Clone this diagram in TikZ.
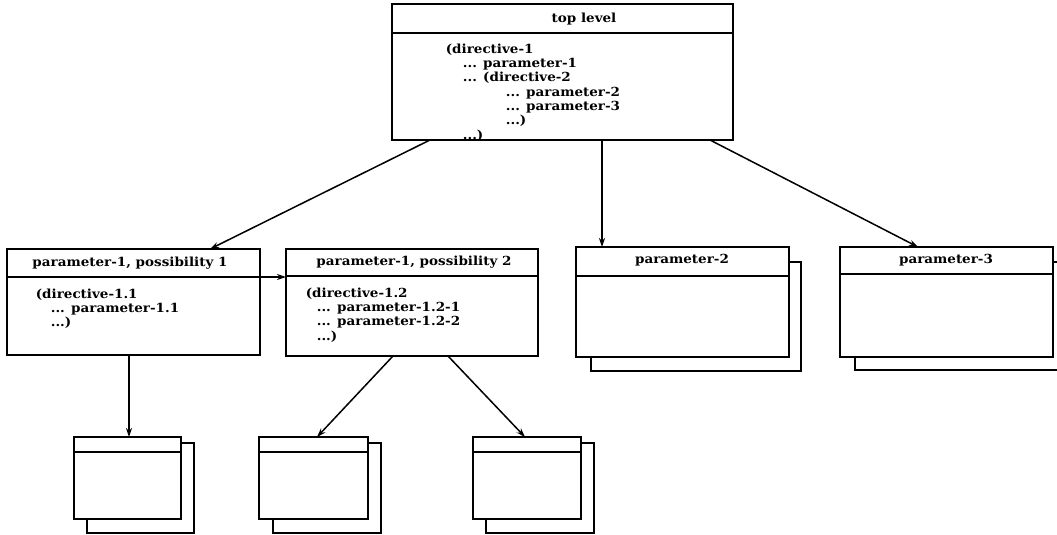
\documentclass[tikz,border=0pt]{standalone}
\usepackage{fontspec}
\newfontfamily\dsf{DejaVu Serif}[FakeStretch=1.08]
\usetikzlibrary{arrows.meta,calc}
\begin{document}
\begin{tikzpicture}[x=1pt,y=-1pt,
  line width=1.7pt,
  box/.style={draw, fill=white, rectangle, anchor=north west, inner sep=0pt, outer sep=0pt},
  back/.style={draw, line width=1.7pt},
  hdr/.style={font=\dsf\bfseries\fontsize{12.5}{14}\selectfont, inner sep=0pt, anchor=center},
  body/.style={font=\dsf\bfseries\fontsize{12.5}{14.3}\selectfont, inner sep=0pt, anchor=north west, align=left},
  conn/.style={line width=1.5pt, -{Stealth[length=9pt,width=6pt]}}]
\useasboundingbox (0,0) rectangle (1057,535);
% shadows (back sheets)
\draw[back] (591,262) rectangle (801,371);
\draw[back] (855,262) rectangle (1070,370);
\draw[back] (87,443) rectangle (194,533);
\draw[back] (273,443) rectangle (381,533);
\draw[back] (486,443) rectangle (594,533);
% boxes
\node[box, minimum width=341pt, minimum height=136pt] (top) at (392,4) {};
\node[box, minimum width=253pt, minimum height=106pt] (p1) at (7,249) {};
\node[box, minimum width=252pt, minimum height=107pt] (p2) at (286,249) {};
\node[box, minimum width=213pt, minimum height=110pt] (p3) at (576,247) {};
\node[box, minimum width=213pt, minimum height=110pt] (p4) at (840,247) {};
\node[box, minimum width=107pt, minimum height=82pt] (a) at (74,437) {};
\node[box, minimum width=109pt, minimum height=82pt] (b) at (259,437) {};
\node[box, minimum width=108pt, minimum height=82pt] (c) at (473,437) {};
% header lines
\draw ([yshift=-29pt]top.north west) -- ([yshift=-29pt]top.north east);
\draw ([yshift=-28pt]p1.north west) -- ([yshift=-28pt]p1.north east);
\draw ([yshift=-27pt]p2.north west) -- ([yshift=-27pt]p2.north east);
\draw ([yshift=-29pt]p3.north west) -- ([yshift=-29pt]p3.north east);
\draw ([yshift=-27pt]p4.north west) -- ([yshift=-27pt]p4.north east);
\draw ([yshift=-15pt]a.north west) -- ([yshift=-15pt]a.north east);
\draw ([yshift=-15pt]b.north west) -- ([yshift=-15pt]b.north east);
\draw ([yshift=-15pt]c.north west) -- ([yshift=-15pt]c.north east);
% header texts
\node[hdr] (toph) at (584,19) {top level};
\node[hdr] (p1h) at (130,263) {parameter-1, possibility 1};
\node[hdr] (p2h) at (414,262) {parameter-1, possibility 2};
\node[hdr] (p3h) at (682,260) {parameter-2};
\node[hdr] (p4h) at (946,260) {parameter-3};
% body texts
\node[body] (topb) at (445,43) {(directive-1\\
\hspace*{17pt}... parameter-1\\
\hspace*{17pt}... (directive-2\\
\hspace*{60pt}... parameter-2\\
\hspace*{60pt}... parameter-3\\
\hspace*{60pt}...)\\
\hspace*{17pt}...)};
\node[body] (p1b) at (35,288) {(directive-1.1\\
\hspace*{15pt}... parameter-1.1\\
\hspace*{15pt}...)};
\node[body] (p2b) at (305,287) {(directive-1.2\\
\hspace*{11pt}... parameter-1.2-1\\
\hspace*{11pt}... parameter-1.2-2\\
\hspace*{11pt}...)};
% connectors
\draw[conn] ([xshift=38pt]top.south west) -- ([xshift=203pt]p1.north west);
\draw[conn] ([xshift=210pt]top.south west) -- ([xshift=26pt]p3.north west);
\draw[conn] ([xshift=318pt]top.south west) -- ([xshift=78pt]p4.north west);
\draw[conn] ([yshift=-28pt]p1.north east) -- ([yshift=-28pt]p2.north west);
\draw[conn] ([xshift=122pt]p1.south west) -- ([xshift=55pt]a.north west);
\draw[conn] ([xshift=107pt]p2.south west) -- ([xshift=58pt]b.north west);
\draw[conn] ([xshift=162pt]p2.south west) -- ([xshift=52pt]c.north west);
\end{tikzpicture}
\end{document}
